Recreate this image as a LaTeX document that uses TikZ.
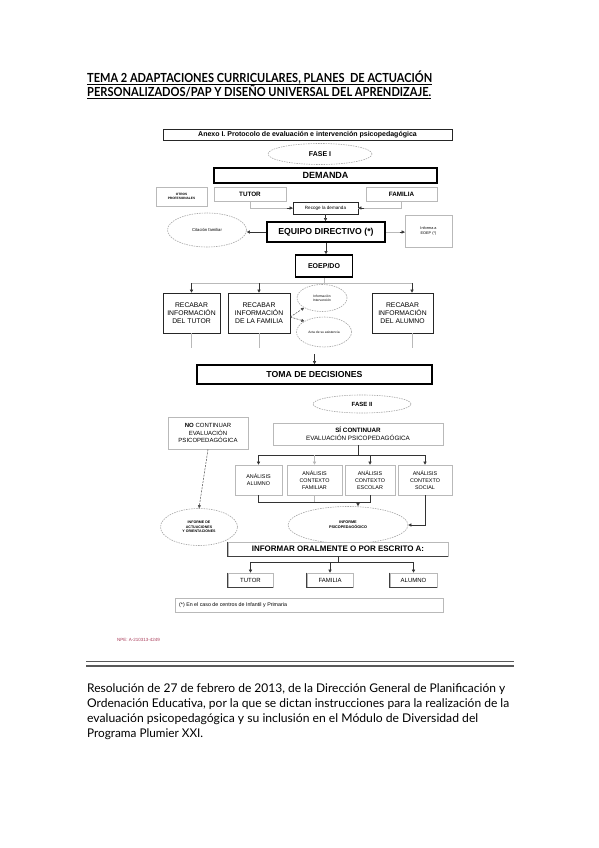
\documentclass[tikz,border=0pt]{standalone}
\usepackage{fontspec}
\usepackage{graphicx}
\setmainfont{Liberation Sans}
\newfontfamily\bodyfont{Lato}
\usetikzlibrary{arrows.meta,shapes.geometric,calc}
\newcommand\fsz[2]{\fontsize{#1}{#2}\selectfont}
\definecolor{npecol}{RGB}{170,60,90}
\begin{document}
\begin{tikzpicture}[x=1pt,y=-1pt,
  every node/.style={inner sep=0pt, align=center},
  thinbox/.style={draw=black!85, line width=0.6pt, fill=white},
  graybox/.style={draw=gray!55, line width=0.6pt, fill=white},
  heavybox/.style={draw=black, line width=1.6pt, fill=white},
  dell/.style={ellipse, draw=gray!70, dash pattern=on 1.5pt off 1pt, line width=0.6pt, fill=white},
  conn/.style={draw=black!80, line width=0.5pt},
  gconn/.style={draw=gray!55, line width=0.5pt},
  dconn/.style={draw=black!70, line width=0.5pt, dash pattern=on 2pt off 1.2pt},
  tip/.style={-{Triangle[length=3pt,width=3pt]}},
  shadowedge/.style={draw=black!75, line width=0.9pt},
]
\useasboundingbox[fill=white] (0,0) rectangle (599,848);

% ---------- title ----------
\node[anchor=base west, font=\bodyfont\bfseries\fsz{12.5}{14}] (t1) at (87,83) {\resizebox{345pt}{\height}{TEMA 2 ADAPTACIONES CURRICULARES, PLANES \ DE ACTUACIÓN}};
\node[anchor=base west, font=\bodyfont\bfseries\fsz{12.5}{14}] (t2) at (87,97) {\resizebox{344pt}{\height}{PERSONALIZADOS/PAP Y DISEÑO UNIVERSAL DEL APRENDIZAJE.}};
\draw[line width=0.8pt] ([yshift=-1.8pt]t1.base west) -- ([yshift=-1.8pt]t1.base east);
\draw[line width=0.8pt] ([yshift=-1.8pt]t2.base west) -- ([yshift=-1.8pt]t2.base east);

% ---------- fase I ----------
\node[thinbox, minimum width=289, minimum height=11, font=\bfseries\fsz{7}{8}] (anexo) at (307.5,134.5) {Anexo I. Protocolo de evaluación e intervención psicopedagógica};
\node[dell, minimum width=104, minimum height=21, font=\bfseries\fsz{7}{8}] (fase1) at (320,154) {FASE I};
\node[heavybox, minimum width=223, minimum height=15, font=\bfseries\fsz{9}{10}] (demanda) at (325.5,175.5) {DEMANDA};
\node[graybox, minimum width=51, minimum height=19, font=\bfseries\fsz{3.2}{4.2}] (otros) at (181.5,196.5) {OTROS\\PROFESIONALES};
\node[graybox, minimum width=72, minimum height=14, font=\bfseries\fsz{6.3}{7}] (tutor) at (250,194) {TUTOR};
\node[graybox, minimum width=71, minimum height=14, font=\bfseries\fsz{6.3}{7}] (familia) at (401.5,194) {FAMILIA};
\node[thinbox, minimum width=65, minimum height=12, font=\fsz{4.6}{5}] (recoge) at (325.5,208) {Recoge la demanda};
\node[heavybox, minimum width=118, minimum height=20, font=\bfseries\fsz{8.7}{10}] (equipo) at (326,232) {EQUIPO DIRECTIVO (*)};
\node[dell, minimum width=79, minimum height=34, font=\fsz{4.2}{5}] (citacion) at (207,230) {Citación familiar};
\node[graybox, minimum width=47, minimum height=32, font=\fsz{3.8}{4.6}] (informa) at (428.5,231) {Informa a\\EOEP (*)};
\node[heavybox, minimum width=57, minimum height=22, font=\bfseries\fsz{7}{8}] (eoep) at (324,266) {EOEP/DO};

\draw[gconn] (tutor.south) |- (recoge.west);
\draw[conn,tip] ([xshift=-6pt]recoge.west) -- (recoge.west);
\draw[gconn] (familia.south) |- (recoge.east);
\draw[conn,tip] ([xshift=6pt]recoge.east) -- (recoge.east);
\draw[conn,tip] (recoge.south) -- (recoge.south |- equipo.north);
\draw[conn,tip] (equipo.west) -- (equipo.west -| citacion.east);
\draw[gconn] (equipo.east) -- (equipo.east -| informa.west);
\draw[conn,tip] ([xshift=-5pt]equipo.east -| informa.west) -- (equipo.east -| informa.west);
\draw[conn,tip] (equipo.south) -- (equipo.south |- eoep.north);

% ---------- recabar ----------
\node[thinbox, minimum width=57, minimum height=40, font=\fsz{6.8}{8}] (rtutor) at (191.5,313) {RECABAR\\INFORMACIÓN\\DEL TUTOR};
\node[thinbox, minimum width=62, minimum height=40, font=\fsz{6.8}{8}] (rfamilia) at (259,313) {RECABAR\\INFORMACIÓN\\DE LA FAMILIA};
\node[thinbox, minimum width=61, minimum height=40, font=\fsz{6.8}{8}] (ralumno) at (402.5,313) {RECABAR\\INFORMACIÓN\\DEL ALUMNO};
\node[dell, minimum width=50, minimum height=27, font=\fsz{3.3}{4.2}] (info) at (322,298) {Información\\Intervención};
\node[dell, minimum width=55, minimum height=30, font=\fsz{3.3}{4.2}] (acta) at (324,332) {Acta de su asistencia};

\coordinate (br1) at (324,283);
\coordinate (ra) at (412,283);
\draw[gconn] (eoep.south) -- (br1);
\draw[gconn] (rtutor.north |- br1) -- (ra);
\draw[conn,tip] (rtutor.north |- br1) -- (rtutor.north);
\draw[conn,tip] (rfamilia.north |- br1) -- (rfamilia.north);
\draw[conn,tip] (ra) -- (ra |- ralumno.north);
\draw[dconn,tip] ([yshift=-4pt]rfamilia.east) -- (info.south west);
\draw[dconn,tip] ([yshift=-4pt]rfamilia.east) -- (acta.north west);
\draw[gconn] (rtutor.south) -- ++(0,15);
\draw[gconn] (rfamilia.south) -- ++(0,15);
\draw[gconn] (ra |- ralumno.south) -- ++(0,15);

% ---------- toma de decisiones ----------
\node[heavybox, minimum width=235, minimum height=19, font=\bfseries\fsz{8.7}{10}] (toma) at (314.5,374.5) {TOMA DE DECISIONES};
\coordinate (ta) at (314.5,354);
\draw[conn,tip] (ta) -- (toma.north);

% ---------- fase II ----------
\node[dell, minimum width=98, minimum height=18, font=\bfseries\fsz{6}{7}] (fase2) at (362,404) {FASE II};
\node[graybox, minimum width=80, minimum height=32, font=\fsz{6}{7.4}] (no) at (208,433) {\textbf{NO} CONTINUAR\\EVALUACIÓN\\PSICOPEDAGÓGICA};
\node[graybox, minimum width=170, minimum height=22, font=\fsz{6.3}{7.6}] (si) at (358,434) {\textbf{SÍ CONTINUAR}\\EVALUACIÓN PSICOPEDAGÓGICA};

\node[graybox, minimum width=47, minimum height=30, font=\fsz{5.4}{6.8}] (aalumno) at (258.5,480) {ANÁLISIS\\ALUMNO};
\node[graybox, minimum width=55, minimum height=30, font=\fsz{5.4}{6.8}] (afamiliar) at (314.5,480) {ANÁLISIS\\CONTEXTO\\FAMILIAR};
\node[graybox, minimum width=50, minimum height=30, font=\fsz{5.4}{6.8}] (aescolar) at (370,480) {ANÁLISIS\\CONTEXTO\\ESCOLAR};
\node[graybox, minimum width=54, minimum height=30, font=\fsz{5.4}{6.8}] (asocial) at (425,480) {ANÁLISIS\\CONTEXTO\\SOCIAL};

\coordinate (br2) at (358,455);
\draw[conn] (si.south) -- (br2);
\draw[conn] (aalumno.north |- br2) -- (asocial.north |- br2);
\draw[conn,tip] (aalumno.north |- br2) -- (aalumno.north);
\draw[gconn,tip] (afamiliar.north |- br2) -- (afamiliar.north);
\draw[conn,tip] (aescolar.north |- br2) -- (aescolar.north);
\draw[conn,tip] (asocial.north |- br2) -- (asocial.north);

\node[dell, minimum width=120, minimum height=37, font=\bfseries\fsz{3.8}{4.8}] (psico) at (348,525) {INFORME\\PSICOPEDAGÓGICO};
\node[dell, minimum width=77, minimum height=37, font=\bfseries\fsz{3.6}{4.6}] (actuac) at (199,527) {INFORME DE\\ACTUACIONES\\Y ORIENTACIONES};

\coordinate (br3) at (358,502);
\draw[conn] (aalumno.south) -- (aalumno.south |- br3) -- (aescolar.south |- br3) -- (aescolar.south);
\draw[gconn] (afamiliar.south) -- (afamiliar.south |- br3);
\draw[conn,tip] (br3) -- (br3 |- psico.north);
\draw[conn,tip] (asocial.south) |- (psico.east);
\draw[dconn,tip] (no.south) -- (actuac.north);

% ---------- informar ----------
\node[graybox, minimum width=220, minimum height=14, font=\bfseries\fsz{8}{9}] (informar) at (338,549) {INFORMAR ORALMENTE O POR ESCRITO A:};
\draw[shadowedge] (informar.north west) |- (informar.south east);
\node[graybox, minimum width=45, minimum height=14, font=\fsz{6}{7}] (btutor) at (250.5,580) {TUTOR};
\node[graybox, minimum width=46, minimum height=14, font=\fsz{6}{7}] (bfamilia) at (330,580) {FAMILIA};
\node[graybox, minimum width=47, minimum height=14, font=\fsz{6}{7}] (balumno) at (413.5,580) {ALUMNO};
\draw[shadowedge] (btutor.north west) |- (btutor.south east);
\draw[shadowedge] (bfamilia.north west) |- (bfamilia.south east);
\draw[shadowedge] (balumno.north west) |- (balumno.south east);

\coordinate (br4) at (338,562);
\draw[conn] (informar.south) -- (br4);
\draw[conn] (btutor.north |- br4) -- (balumno.north |- br4);
\draw[conn,tip] (btutor.north |- br4) -- (btutor.north);
\draw[conn,tip] (bfamilia.north |- br4) -- (bfamilia.north);
\draw[conn,tip] (balumno.north |- br4) -- (balumno.north);

\node[graybox, minimum width=268, minimum height=14] (nota) at (309,605) {};
\node[anchor=west, font=\fsz{5.3}{6}] (notatxt) at (179,605) {(*) En el caso de centros de Infantil y Primaria};

% ---------- bottom ----------
\node[anchor=west, text=npecol, font=\fsz{4.5}{5}] (npe) at (117,640) {NPE: A-210313-4249};
\draw[draw=black!65, line width=1pt] (86,661.5) -- (514,661.5);
\draw[draw=black!65, line width=2pt] (86,665.5) -- (514,665.5);

\node[anchor=base west, font=\bodyfont\fsz{12}{14}] (p1) at (87,692) {\resizebox{418pt}{\height}{Resolución de 27 de febrero de 2013, de la Dirección General de Planificación y}};
\node[anchor=base west, font=\bodyfont\fsz{12}{14}] (p2) at (87,707) {\resizebox{422pt}{\height}{Ordenación Educativa, por la que se dictan instrucciones para la realización de la}};
\node[anchor=base west, font=\bodyfont\fsz{12}{14}] (p3) at (87,722) {\resizebox{391pt}{\height}{evaluación psicopedagógica y su inclusión en el Módulo de Diversidad del}};
\node[anchor=base west, font=\bodyfont\fsz{12}{14}] (p4) at (87,737) {\resizebox{116pt}{\height}{Programa Plumier XXI.}};
\end{tikzpicture}
\end{document}
